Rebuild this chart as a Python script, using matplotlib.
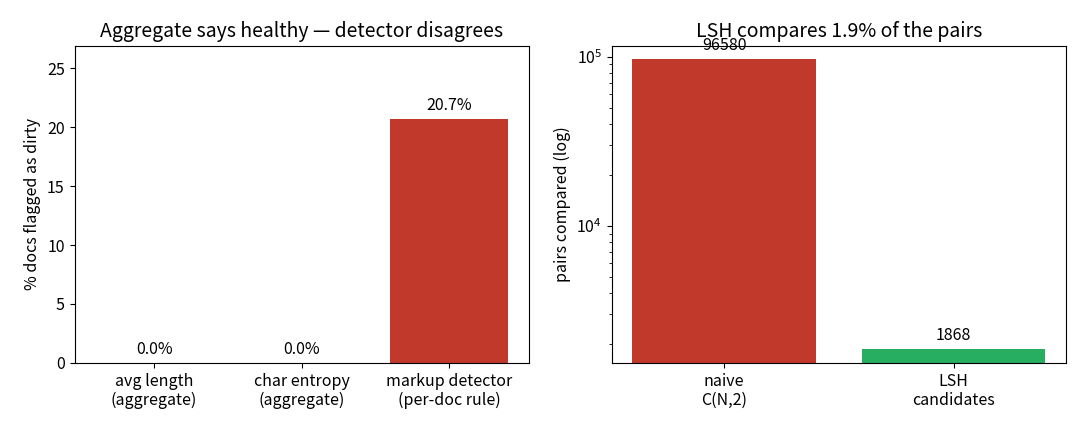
import matplotlib
matplotlib.use('Agg')
import matplotlib.pyplot as plt

plt.rcParams['font.family'] = ['Noto Sans CJK JP', 'DejaVu Sans']

# left panel
metodos = ['avg length\n(aggregate)', 'char entropy\n(aggregate)', 'markup detector\n(per-doc rule)']
pct_sucios = [0.0, 0.0, 20.7]

# right panel
pares_labels = ['naive\nC(N,2)', 'LSH\ncandidates']
pares = [96580, 1868]

rojo = '#c0392b'
verde = '#27ae60'

fig, (ax1, ax2) = plt.subplots(1, 2, figsize=(10.8, 4.32), dpi=100)

b1 = ax1.bar(metodos, pct_sucios, color=rojo, width=0.8)
for rect, v in zip(b1, pct_sucios):
    ax1.text(rect.get_x() + rect.get_width() / 2, v + 0.4, f'{v:.1f}%',
             ha='center', va='bottom', fontsize=11.5)
ax1.set_ylim(0, max(pct_sucios) * 1.3)
ax1.set_ylabel('% docs flagged as dirty', fontsize=11.5)
ax1.set_title('Aggregate says healthy — detector disagrees', fontsize=14)
ax1.tick_params(labelsize=11.5)

b2 = ax2.bar(pares_labels, pares, color=[rojo, verde], width=0.8)
ax2.set_yscale('log')
for rect, v in zip(b2, pares):
    ax2.text(rect.get_x() + rect.get_width() / 2, v * 1.08, f'{v}',
             ha='center', va='bottom', fontsize=11.5)
ax2.set_ylim(min(pares) * 0.83, max(pares) * 1.2)
ax2.set_ylabel('pairs compared (log)', fontsize=11.5)
ax2.set_title(f'LSH compares {pares[1] / pares[0] * 100:.1f}% of the pairs', fontsize=14)
ax2.tick_params(labelsize=11.5)

plt.subplots_adjust(left=0.069, right=0.987, top=0.894, bottom=0.160, wspace=0.183)
plt.savefig('out.png')
